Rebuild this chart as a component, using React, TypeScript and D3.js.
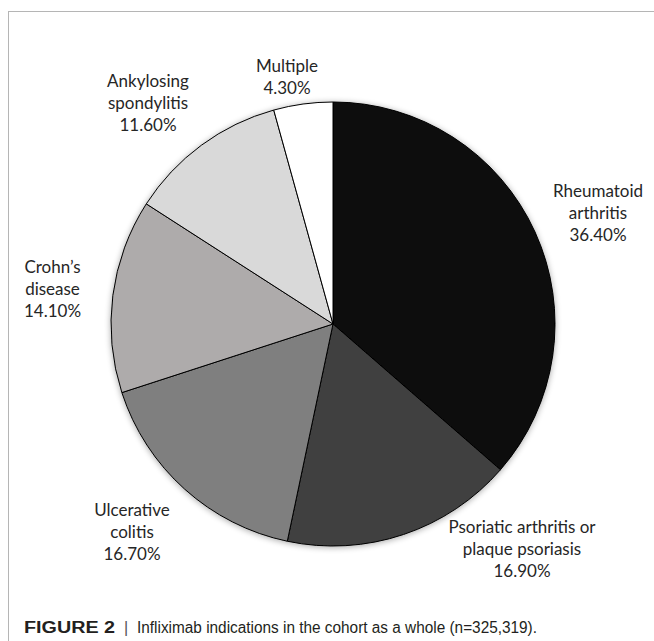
import React from "react";
import * as d3 from "d3";

const categories = [
  "Rheumatoid arthritis",
  "Psoriatic arthritis or plaque psoriasis",
  "Ulcerative colitis",
  "Crohn’s disease",
  "Ankylosing spondylitis",
  "Multiple",
];
const values = [36.4, 16.9, 16.7, 14.1, 11.6, 4.3];
const labelLines = [
  ["Rheumatoid", "arthritis"],
  ["Psoriatic arthritis or", "plaque psoriasis"],
  ["Ulcerative", "colitis"],
  ["Crohn’s", "disease"],
  ["Ankylosing", "spondylitis"],
  ["Multiple"],
];
const colors = ["#0d0d0d", "#404040", "#7f7f7f", "#aeabab", "#d9d9d9", "#ffffff"];
const captionBold = "FIGURE 2";
const captionText = "Infliximab indications in the cohort as a whole (n=325,319).";

// label anchor positions (layout)
const labelPos: [number, number][] = [
  [598, 197],
  [522, 533],
  [132, 516],
  [52.5, 273],
  [148, 87],
  [287, 72],
];

const W = 654;
const H = 641;
const cx = 333;
const cy = 324;
const R = 222;

export default function App() {
  const data = categories.map((c, i) => ({ name: c, value: values[i], i }));
  const pie = d3.pie<any>().sort(null).value((d) => d.value).startAngle(0).endAngle(2 * Math.PI);
  const arc = d3.arc<any>().innerRadius(0).outerRadius(R);
  const arcs = pie(data);
  const labelFont = "Lato, 'Open Sans', sans-serif";
  return (
    <svg
      width={W}
      height={H}
      style={{ position: "absolute", left: 0, top: 0, display: "block", background: "#fff" }}
    >
      <defs>
        <filter id="shadow" x="-20%" y="-20%" width="140%" height="140%">
          <feGaussianBlur in="SourceAlpha" stdDeviation="3" />
          <feOffset dx="0" dy="1" result="b" />
          <feComponentTransfer>
            <feFuncA type="linear" slope="0.35" />
          </feComponentTransfer>
          <feMerge>
            <feMergeNode />
            <feMergeNode in="SourceGraphic" />
          </feMerge>
        </filter>
      </defs>
      <rect x={8.5} y={11.5} width={W + 20} height={H + 20} fill="none" stroke="#b5b5b5" strokeWidth={1} />
      <g transform={`translate(${cx},${cy})`} filter="url(#shadow)">
        {arcs.map((a, i) => (
          <path key={i} d={arc(a) as string} fill={colors[i]} stroke="#000" strokeWidth={1} />
        ))}
      </g>
      {arcs.map((a, i) => {
        const lines = [...labelLines[i], values[i].toFixed(2) + "%"];
        const [lx, ly] = labelPos[i];
        return (
          <text
            key={i}
            x={lx}
            y={ly}
            textAnchor="middle"
            fontFamily={labelFont}
            fontSize={17}
            fill="#262626"
          >
            {lines.map((l, j) => (
              <tspan key={j} x={lx} dy={j === 0 ? 0 : 22}>
                {l}
              </tspan>
            ))}
          </text>
        );
      })}
      <text y={633} fontFamily="'Liberation Sans Narrow', 'Liberation Sans', Arial, sans-serif" fontSize={16} fill="#231f20">
        <tspan x={24} fontWeight="bold" textLength={91} lengthAdjust="spacingAndGlyphs">
          {captionBold}
        </tspan>
        <tspan x={124} fill="#555">|</tspan>
        <tspan x={137} textLength={400} lengthAdjust="spacingAndGlyphs">
          {captionText}
        </tspan>
      </text>
    </svg>
  );
}
